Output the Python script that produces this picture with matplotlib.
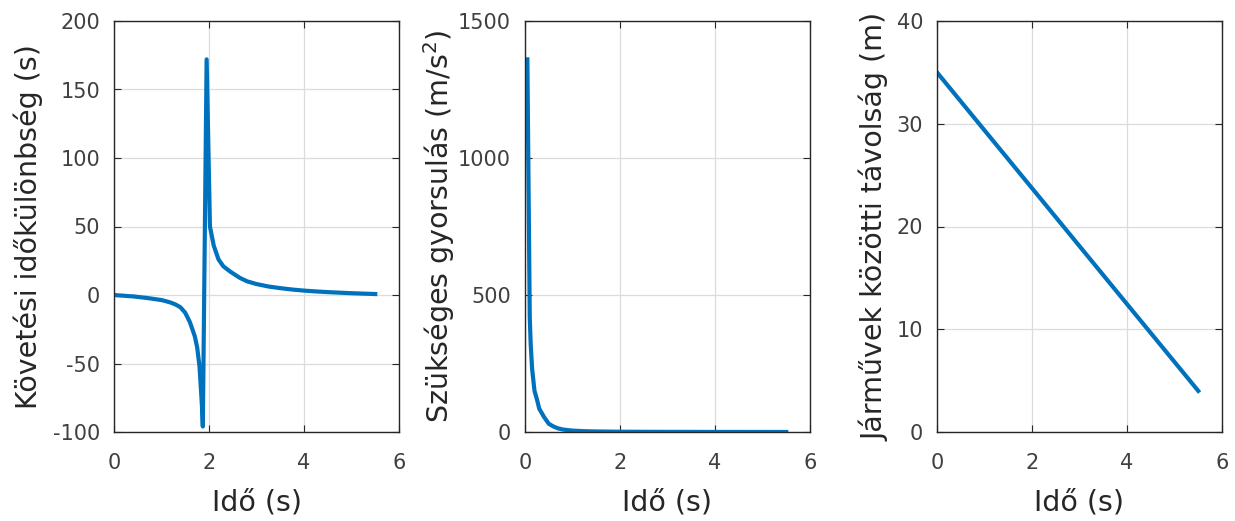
import matplotlib
matplotlib.use("Agg")
import matplotlib.pyplot as plt

plt.rcParams['font.family'] = ['DejaVu Sans']
plt.rcParams['axes.unicode_minus'] = False

# --- data ---
t_headway = [0.0, 0.1, 0.2, 0.3, 0.4, 0.5, 0.6, 0.7, 0.8, 0.9, 1.0, 1.1, 1.2, 1.3,
             1.4, 1.5, 1.6, 1.7, 1.75, 1.8, 1.85, 1.87, 1.95, 2.02, 2.1, 2.2, 2.3, 2.45,
             2.65, 2.8, 3.0, 3.25, 3.5, 3.75, 4.0, 4.25, 4.5, 4.75, 5.0, 5.25, 5.5]
headway = [0.0, -0.3, -0.5, -0.8, -1.0, -1.4, -1.8, -2.2, -2.7, -3.2, -3.7, -4.6, -5.6, -7.0,
           -9.0, -13.0, -20.0, -30.0, -38.0, -52.0, -80.0, -96.0, 172.0, 50.0, 36.0, 26.0, 21.0, 17.0,
           12.5, 10.0, 8.0, 6.2, 5.0, 4.0, 3.2, 2.6, 2.1, 1.7, 1.3, 1.0, 0.7]

t_accel = [0.05, 0.08, 0.1, 0.12, 0.15, 0.2, 0.25, 0.3, 0.4, 0.5, 0.6, 0.7, 0.8,
           1.0, 1.25, 1.5, 2.0, 3.0, 4.0, 5.0, 5.5]
accel = [1360, 800, 420, 320, 230, 150, 120, 85, 55, 30, 20, 13, 9,
         5.0, 3.0, 2.0, 1.0, 0.45, 0.25, 0.16, 0.13]

t_dist = [0.0, 1.0, 2.0, 3.0, 4.0, 5.0, 5.5]
dist = [35.0, 29.36, 23.73, 18.09, 12.45, 6.82, 4.0]

xlabel = 'Idő (s)'
ylabels = ['Követési időkülönbség (s)',
           'Szükséges gyorsulás (m/s$^2$)',
           'Járművek közötti távolság (m)']
xlim = (0, 6)
xticks = [0, 2, 4, 6]
ylims = [(-100, 200), (0, 1500), (0, 40)]
yticks = [[-100, -50, 0, 50, 100, 150, 200],
          [0, 500, 1000, 1500],
          [0, 10, 20, 30, 40]]

series = [(t_headway, headway), (t_accel, accel), (t_dist, dist)]

W, H = 1235, 521
fig = plt.figure(figsize=(W / 100, H / 100), dpi=100)
lefts = [114, 525, 937]
width = 285
top, bottom = 21, 432
ylabel_x = [43, 457, 889]   # right edge (descent side) of rotated y-labels, px

line_color = '#0072BD'
text_color = '#262626'

for i, (tx, ty) in enumerate(series):
    ax = fig.add_axes([lefts[i] / W, 1 - bottom / H, width / W, (bottom - top) / H])
    ax.plot(tx, ty, color=line_color, lw=3.0, solid_joinstyle='round')
    ax.set_xlim(*xlim)
    ax.set_ylim(*ylims[i])
    ax.set_xticks(xticks)
    ax.set_yticks(yticks[i])
    ax.grid(True, color='#dcdcdc', lw=0.9)
    ax.set_axisbelow(True)
    ax.tick_params(direction='in', top=True, right=True, length=5, width=0.8,
                   labelsize=15, colors=text_color, labelcolor='#404040')
    ax.tick_params(axis='x', pad=15)
    ax.tick_params(axis='y', pad=10)
    for s in ax.spines.values():
        s.set_color(text_color)
        s.set_linewidth(1.0)
    ax.set_xlabel(xlabel, fontsize=20.5, color=text_color, labelpad=11)
    ax.set_ylabel(ylabels[i], fontsize=20.5, color=text_color)
    ax.yaxis.set_label_coords((ylabel_x[i] - lefts[i]) / width, 0.5)
    ax.yaxis.label.set_va('bottom')

fig.savefig('out.png', dpi=100)
